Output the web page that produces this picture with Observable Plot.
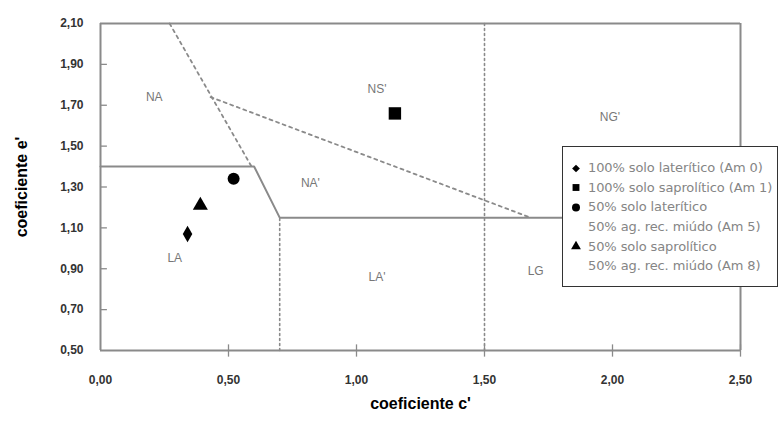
<!DOCTYPE html>
<html>
<head>
<meta charset="utf-8">
<script src="https://cdn.jsdelivr.net/npm/d3@7"></script>
<script src="https://cdn.jsdelivr.net/npm/@observablehq/plot@0.6"></script>
<style>
  body { margin: 0; background: #fff; }
  #wrap { position: relative; width: 782px; height: 421px; font-family: Arial, "Liberation Sans", sans-serif; }
  #legend { position: absolute; left: 562px; top: 146px; width: 216px; height: 141px; border: 1px solid #333; background: #fff; box-sizing: border-box; padding-top: 11px; overflow: hidden; }
  #legend .row { display: flex; align-items: center; height: 19.6px; font-family: "DejaVu Sans", Verdana, sans-serif; font-size: 13px; letter-spacing: -0.1px; color: #858585; white-space: nowrap; }
  #legend .sym { width: 25px; flex: none; display: flex; justify-content: center; }
  #legend .cont { padding-left: 25px; }
</style>
</head>
<body>
<div id="wrap"></div>
<script>
// Samples: coefficient c' and e' of the MCT classification
const sampleNames = [
  ["100% solo laterítico (Am 0)"],
  ["100% solo saprolítico (Am 1)"],
  ["50% solo laterítico", "50% ag. rec. miúdo (Am 5)"],
  ["50% solo saprolítico", "50% ag. rec. miúdo (Am 8)"]
];
const sampleSymbols = ["diamond", "square", "circle", "triangle"];
const sampleSizes = [5, 7, 6, 5.6];
const sampleC = [0.34, 1.15, 0.52, 0.39];
const sampleE = [1.07, 1.66, 1.34, 1.21];

// Class boundaries
const solidBoundary = [[0, 1.40], [0.60, 1.40], [0.70, 1.15], [2.50, 1.15]];
const dashedBoundary1 = [[0.27, 2.10], [0.59, 1.40]];
const dashedBoundary2 = [[0.43, 1.74], [1.68, 1.15]];
const dottedBoundaries = [
  [[0.70, 0.50], [0.70, 1.15]],
  [[1.50, 0.50], [1.50, 2.10]]
];

// Class labels
const zoneNames = ["NA", "NS'", "NA'", "NG'", "LA", "LA'", "LG"];
const zoneC = [0.21, 1.08, 0.82, 1.99, 0.29, 1.08, 1.70];
const zoneE = [1.74, 1.78, 1.32, 1.64, 0.95, 0.86, 0.89];

// Axis ticks
const xTicks = [0, 0.5, 1.0, 1.5, 2.0, 2.5];
const yTicks = [0.5, 0.7, 0.9, 1.1, 1.3, 1.5, 1.7, 1.9, 2.1];
const fmt = d => d3.format(".2f")(d).replace(".", ",");

const samples = sampleC.map((c, i) => ({c, e: sampleE[i], symbol: sampleSymbols[i], r: sampleSizes[i]}));
const zones = zoneNames.map((name, i) => ({name, c: zoneC[i], e: zoneE[i]}));
const toPts = arr => arr.map(([c, e]) => ({c, e}));
const dotted = dottedBoundaries.flatMap((seg, k) => seg.map(([c, e]) => ({c, e, k})));
const xTickMarks = xTicks.slice(1).map(c => ({c, lo: 0.47, hi: 0.53}));
const yTickMarks = yTicks.slice(1, -1).map(e => ({e, lo: 0, hi: 0.025}));

const gray = "#8a8a8a";

const chart = Plot.plot({
  width: 782,
  height: 421,
  marginLeft: 100,
  marginRight: 42,
  marginTop: 23,
  marginBottom: 71,
  style: {fontFamily: "Arial, 'Liberation Sans', sans-serif", background: "#fff"},
  x: {domain: [0, 2.5]},
  y: {domain: [0.5, 2.1]},
  r: {type: "identity"},
  marks: [
    // frame
    Plot.ruleY([2.1], {stroke: gray, strokeWidth: 2}),
    Plot.ruleX([2.5], {stroke: gray, strokeWidth: 2}),
    Plot.ruleY([0.5], {stroke: gray, strokeWidth: 2}),
    Plot.ruleX([0], {stroke: gray, strokeWidth: 2}),
    // tick marks
    Plot.link(xTickMarks, {x1: "c", x2: "c", y1: "lo", y2: "hi", stroke: gray, strokeWidth: 1.3}),
    Plot.link(yTickMarks, {x1: "lo", x2: "hi", y1: "e", y2: "e", stroke: gray, strokeWidth: 1.3}),
    // boundaries
    Plot.line(dotted, {x: "c", y: "e", z: "k", stroke: gray, strokeWidth: 1.6, strokeDasharray: "2,3"}),
    Plot.line(toPts(dashedBoundary1), {x: "c", y: "e", stroke: gray, strokeWidth: 1.8, strokeDasharray: "3,4"}),
    Plot.line(toPts(dashedBoundary2), {x: "c", y: "e", stroke: gray, strokeWidth: 1.8, strokeDasharray: "3,4"}),
    Plot.line(toPts(solidBoundary), {x: "c", y: "e", stroke: gray, strokeWidth: 2}),
    // zone labels
    Plot.text(zones, {x: "c", y: "e", text: "name", fill: "#777", fontSize: 12}),
    // samples
    Plot.dot(samples, {x: "c", y: "e", symbol: "symbol", r: "r", fill: "#000", stroke: "none"}),
    // axes
    Plot.axisX({ticks: xTicks, tickFormat: fmt, tickSize: 0, tickPadding: 25, fontSize: 12, fontWeight: "bold", fill: "#333", label: null}),
    Plot.axisY({ticks: yTicks, tickFormat: fmt, tickSize: 0, tickPadding: 17, fontSize: 12, fontWeight: "bold", fill: "#333", label: null}),
    Plot.axisX({ticks: [], label: "coeficiente c'", labelAnchor: "center", labelArrow: "none", labelOffset: 58, fontSize: 16, fontWeight: "bold", fill: "#000", tickSize: 0}),
    Plot.axisY({ticks: [], label: "coeficiente e'", labelAnchor: "center", labelArrow: "none", labelOffset: 85, fontSize: 16, fontWeight: "bold", fill: "#000", tickSize: 0})
  ]
});

const wrap = document.getElementById("wrap");
wrap.appendChild(chart);

// Legend
const legend = document.createElement("div");
legend.id = "legend";
sampleNames.forEach((lines, i) => {
  lines.forEach((txt, j) => {
    const row = document.createElement("div");
    row.className = "row";
    if (j === 0) {
      const sym = document.createElement("div");
      sym.className = "sym";
      const svg = d3.create("svg").attr("width", 12).attr("height", 12);
      const shape = {diamond: d3.symbolDiamond2, square: d3.symbolSquare2, circle: d3.symbolCircle, triangle: d3.symbolTriangle}[sampleSymbols[i]];
      const sizeMap = {diamond: 38, square: 60, circle: 50, triangle: 42};
      svg.append("path").attr("transform", "translate(6,6.5)")
        .attr("d", d3.symbol(shape, sizeMap[sampleSymbols[i]])()).attr("fill", "#000");
      sym.appendChild(svg.node());
      row.appendChild(sym);
      const t = document.createElement("span");
      t.textContent = txt;
      row.appendChild(t);
    } else {
      row.classList.add("cont");
      row.textContent = txt;
    }
    legend.appendChild(row);
  });
});
wrap.appendChild(legend);
</script>
</body>
</html>
